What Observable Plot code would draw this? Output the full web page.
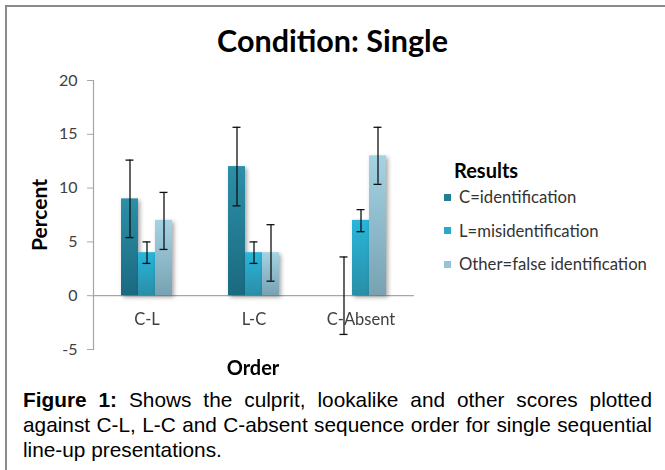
<!DOCTYPE html>
<html><head><meta charset="utf-8">
<script src="https://cdn.jsdelivr.net/npm/d3@7"></script>
<script src="https://cdn.jsdelivr.net/npm/@observablehq/plot@0.6"></script>
<style>
html,body{margin:0;padding:0;background:#fff;}
#wrap{position:relative;width:665px;height:470px;overflow:hidden;font-family:Lato,"Noto Sans",sans-serif;}
#border{position:absolute;left:5px;top:5px;width:665px;height:470px;border-left:2px solid #8a8a8a;border-top:2px solid #8a8a8a;box-sizing:border-box;}
#title{position:absolute;left:0;width:665px;top:40px;transform:translateY(-50%);text-align:center;font-weight:bold;font-size:30.5px;color:#000;}
#ylab{position:absolute;left:38px;top:215px;transform:translate(-50%,-50%) rotate(-90deg);font-weight:bold;font-size:21px;white-space:nowrap;}
#xlab{position:absolute;left:253px;top:367px;transform:translate(-50%,-50%);font-weight:bold;font-size:20px;}
#legend .lt{position:absolute;left:454px;top:170px;transform:translateY(-50%);font-weight:bold;font-size:20px;white-space:nowrap;}
#legend .it{position:absolute;left:444px;transform:translateY(-50%);font-size:16.7px;color:#333;display:flex;align-items:center;white-space:nowrap;}
#legend .sw{width:7px;height:7px;margin-right:8px;}
#caption{position:absolute;left:23px;width:629px;top:387px;font-family:"Liberation Sans",Arial,sans-serif;font-size:20.8px;line-height:25px;text-align:justify;color:#000;}
svg g[aria-label="bar"]{filter:drop-shadow(2px 2px 2px rgba(0,0,0,0.35));}
#chart{position:absolute;left:0;top:0;}
</style>
</head><body>
<div id="wrap">
<div id="border"></div>
<div id="chart"></div>
<div id="title"></div>
<div id="ylab">Percent</div>
<div id="xlab">Order</div>
<div id="legend"></div>
<div id="caption"></div>
</div>
<script>
const orders = ["C-L", "L-C", "C-Absent"];
const seriesNames = ["C=identification", "L=misidentification", "Other=false identification"];
const seriesKeys = ["C", "L", "O"];
const valuesC = [9, 12, 0];
const valuesL = [4, 4, 7];
const valuesO = [7, 4, 13];
const lowC = [5.4, 8.35, -3.6];
const highC = [12.6, 15.65, 3.6];
const lowL = [3, 3, 5.95];
const highL = [5, 5, 8];
const lowO = [4.3, 1.35, 10.35];
const highO = [9.6, 6.6, 15.65];
const yTicks = [-5, 0, 5, 10, 15, 20];
const titleText = "Condition: Single";
const legendTitle = "Results";
const swatchColors = ["#237d94", "#27a9cc", "#94c4d6"];
const gradTop = ["#2c8fa8", "#28b6da", "#a4d3e4"];
const gradBottom = ["#1a6a80", "#2a8ea8", "#78a2b2"];

const vals = [valuesC, valuesL, valuesO];
const lows = [lowC, lowL, lowO];
const highs = [highC, highL, highO];
const data = [];
seriesNames.forEach((s, si) => orders.forEach((o, oi) => {
  data.push({order: o, series: s, key: seriesKeys[si], value: vals[si][oi], lo: lows[si][oi], hi: highs[si][oi]});
}));

const barMarks = seriesKeys.map((k, si) =>
  Plot.barY(data.filter(d => d.key === k), {fx: "order", x: "series", y: "value", fill: `url(#g${k})`})
);

const chart = Plot.plot({
  width: 665,
  height: 380,
  marginTop: 80,
  marginBottom: 31,
  marginLeft: 92,
  marginRight: 250.5,
  style: {fontFamily: "Lato, 'Noto Sans', sans-serif", background: "transparent"},
  fx: {domain: orders, padding: 0, axis: null},
  x: {domain: seriesNames, paddingInner: 0, paddingOuter: 1.486, axis: null},
  y: {domain: [-5, 20], axis: null},
  marks: [
    Plot.ruleY([0], {stroke: "#a6a6a6", strokeWidth: 1.2}),
    Plot.frame({anchor: "left", facetAnchor: "left", stroke: "#a6a6a6", strokeWidth: 1.2}),
    Plot.axisY({ticks: yTicks, tickSize: 6, tickPadding: 10, fontSize: 16, stroke: "#a6a6a6", fill: "#404040", label: null, tickFormat: d => String(d)}),
    ...barMarks,
    Plot.ruleX(data, {fx: "order", x: "series", y1: "lo", y2: "hi", stroke: "#111", strokeWidth: 1.3}),
    Plot.tickY(data, {fx: "order", x: "series", y: "lo", insetLeft: 4.5, insetRight: 4.5, stroke: "#111", strokeWidth: 1.3}),
    Plot.tickY(data, {fx: "order", x: "series", y: "hi", insetLeft: 4.5, insetRight: 4.5, stroke: "#111", strokeWidth: 1.3}),
    Plot.text(orders, {fx: d => d, y: () => 0, text: d => d, dy: 24, fontSize: 16.5, fill: "#404040"})
  ]
});

const ns = "http://www.w3.org/2000/svg";
const defs = document.createElementNS(ns, "defs");
seriesKeys.forEach((k, i) => {
  const g = document.createElementNS(ns, "linearGradient");
  g.setAttribute("id", "g" + k);
  g.setAttribute("x1", "0"); g.setAttribute("y1", "0");
  g.setAttribute("x2", "0"); g.setAttribute("y2", "1");
  [[0, gradTop[i]], [1, gradBottom[i]]].forEach(([off, c]) => {
    const s = document.createElementNS(ns, "stop");
    s.setAttribute("offset", off);
    s.setAttribute("stop-color", c);
    g.appendChild(s);
  });
  defs.appendChild(g);
});
chart.insertBefore(defs, chart.firstChild);
document.getElementById("chart").appendChild(chart);

document.getElementById("title").textContent = titleText;
const leg = document.getElementById("legend");
const lt = document.createElement("div"); lt.className = "lt"; lt.textContent = legendTitle; leg.appendChild(lt);
const itemY = [197, 230.5, 264];
seriesNames.forEach((s, i) => {
  const it = document.createElement("div"); it.className = "it"; it.style.top = itemY[i] + "px";
  const sw = document.createElement("div"); sw.className = "sw"; sw.style.background = swatchColors[i];
  const tx = document.createElement("span"); tx.textContent = s;
  it.appendChild(sw); it.appendChild(tx); leg.appendChild(it);
});
document.getElementById("caption").innerHTML = "<b>Figure 1:</b> Shows the culprit, lookalike and other scores plotted against C-L, L-C and C-absent sequence order for single sequential line-up presentations.";
</script>
</body></html>
